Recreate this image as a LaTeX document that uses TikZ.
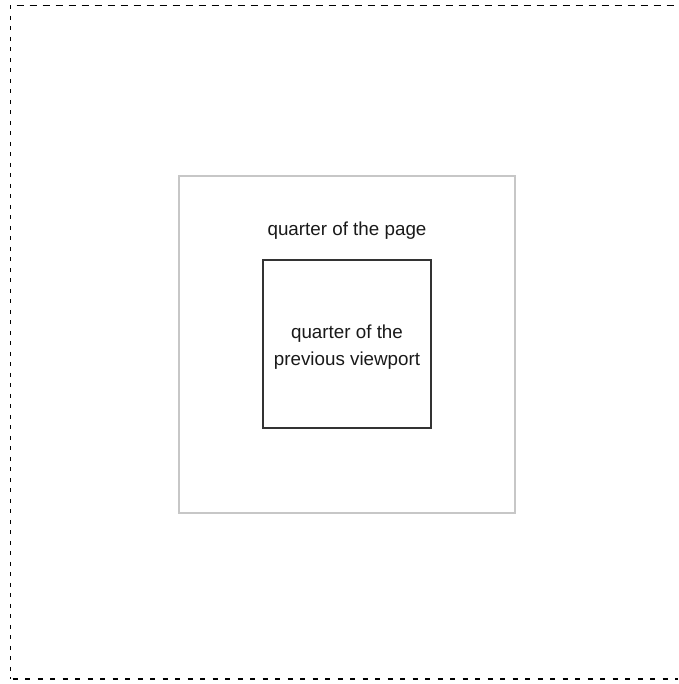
\documentclass[tikz,border=0pt]{standalone}
\usepackage{fontspec}
\setmainfont{Liberation Sans}
\begin{document}
\begin{tikzpicture}[x=1pt,y=1pt,
  lbl/.style={font=\fontsize{18.8}{26.5}\selectfont, align=center, text=black!90, inner sep=0pt},
  pageline/.style={draw=black, line width=1.5pt},
  outerbox/.style={draw=black!22, line width=1.1pt},
  innerbox/.style={draw=black!80, line width=1.1pt}]
\useasboundingbox (0,0) rectangle (678,684);
\coordinate (tr) at (678,678.5);
\coordinate (tl) at (10.5,678.5);
\coordinate (bl) at (10.5,5);
\coordinate (br) at (678,5);
\draw[pageline, dash pattern=on 7pt off 6pt, dash phase=-6pt] (tl) -- (tr);
\draw[pageline, dash pattern=on 4pt off 6.5pt] (tl) -- (bl);
\draw[pageline, dash pattern=on 5pt off 7.5pt, dash phase=-2pt] (bl) -- (br);
\node[outerbox, minimum width=336pt, minimum height=337pt, inner sep=0pt] (outer) at (347,339.5) {};
\node[innerbox, minimum width=168pt, minimum height=168pt, inner sep=0pt] (inner) at (347,340) {};
\node[lbl] (t1) at (347,453.5) {quarter of the page};
\node[lbl] (t2) at (347,337) {quarter of the\\previous viewport};
\end{tikzpicture}
\end{document}
